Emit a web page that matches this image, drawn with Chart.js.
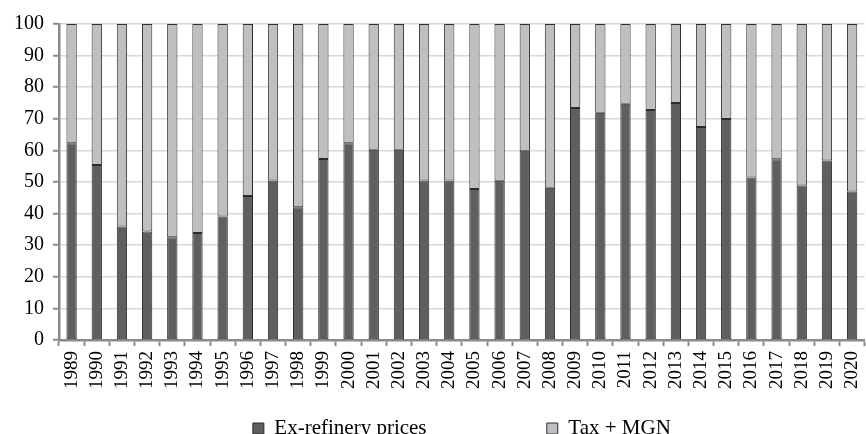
<!DOCTYPE html>
<html>
<head>
<meta charset="utf-8">
<script src="https://cdn.jsdelivr.net/npm/chart.js@4/dist/chart.umd.min.js"></script>
<style>
    html, body { margin: 0; padding: 0; overflow: hidden; background: #fff; }
    #wrap { width: 880px; height: 449px; }
</style>
</head>
<body>
<div id="wrap"><canvas id="price-chart" width="880" height="449"></canvas></div>
<script>
const years = ['1989', '1990', '1991', '1992', '1993', '1994', '1995', '1996', '1997', '1998',
    '1999', '2000', '2001', '2002', '2003', '2004', '2005', '2006', '2007', '2008',
    '2009', '2010', '2011', '2012', '2013', '2014', '2015', '2016', '2017', '2018',
    '2019', '2020'];

const exRefinery = [62.3, 55.4, 35.9, 34.3, 32.5, 33.9, 39.1, 45.6, 50.5, 42.0,
    57.3, 62.3, 60.2, 60.2, 50.5, 50.5, 47.8, 50.4, 59.9, 48.2,
    73.4, 71.9, 74.8, 72.8, 75.0, 67.4, 69.9, 51.4, 57.2, 48.9,
    56.8, 47.0];

const taxMgn = [37.7, 44.6, 64.1, 65.7, 67.5, 66.1, 60.9, 54.4, 49.5, 58.0,
    42.7, 37.7, 39.8, 39.8, 49.5, 49.5, 52.2, 49.6, 40.1, 51.8,
    26.6, 28.1, 25.2, 27.2, 25.0, 32.6, 30.1, 48.6, 42.8, 51.1,
    43.2, 53.0];

const yTicks = [0, 10, 20, 30, 40, 50, 60, 70, 80, 90, 100];

const serif = "'Liberation Serif', 'Times New Roman', serif";
const axisGrey = '#8a8a8a';

new Chart(document.querySelector('#price-chart').getContext('2d'), {
    type: 'bar',
    data: {
        labels: years,
        datasets: [
            {
                label: 'Ex-refinery prices',
                data: exRefinery,
                backgroundColor: '#5f5f5f',
                borderColor: '#2a2a2a',
                borderWidth: 1,
                borderSkipped: false
            },
            {
                label: 'Tax + MGN',
                data: taxMgn,
                backgroundColor: '#bebfc3',
                borderColor: '#2e2e2e',
                borderWidth: 1,
                borderSkipped: false
            }
        ]
    },
    options: {
        responsive: false,
        animation: false,
        devicePixelRatio: 1,
        categoryPercentage: 1,
        barPercentage: 0.41,
        layout: { padding: { left: 0, right: 6, top: 24, bottom: 0 } },
        plugins: {
            tooltip: { enabled: false },
            legend: {
                position: 'bottom',
                fullSize: false,
                labels: {
                    font: { family: serif, size: 21 },
                    color: '#000',
                    boxWidth: 11,
                    boxHeight: 11,
                    padding: 10,
                    generateLabels: chart => {
                        const items = Chart.defaults.plugins.legend.labels.generateLabels(chart);
                        // wide gap between the two entries
                        items[0].text = items[0].text + ' '.repeat(21);
                        items.forEach(item => { item.lineWidth = 1; item.strokeStyle = '#2e2e2e'; });
                        return items;
                    }
                }
            }
        },
        scales: {
            x: {
                stacked: true,
                offset: true,
                grid: {
                    display: true,
                    drawOnChartArea: false,
                    drawTicks: true,
                    tickLength: 6,
                    tickWidth: 2,
                    tickColor: axisGrey,
                    offset: true
                },
                border: { display: true, color: axisGrey, width: 2.5 },
                ticks: {
                    autoSkip: false,
                    minRotation: 90,
                    maxRotation: 90,
                    padding: 5,
                    color: '#000',
                    font: { family: serif, size: 19 }
                },
                afterFit: scale => { scale.height = 68; }
            },
            y: {
                stacked: true,
                min: 0,
                max: 100,
                afterBuildTicks: scale => { scale.ticks = yTicks.map(v => ({ value: v })); },
                grid: {
                    color: '#d9d9d9',
                    lineWidth: 1.5,
                    tickLength: 6,
                    tickWidth: 2,
                    tickColor: axisGrey
                },
                border: { display: true, color: axisGrey, width: 2.5 },
                ticks: {
                    padding: 9,
                    color: '#000',
                    font: { family: serif, size: 20 }
                },
                afterFit: scale => { scale.width = 59; }
            }
        }
    }
});
</script>
</body>
</html>
